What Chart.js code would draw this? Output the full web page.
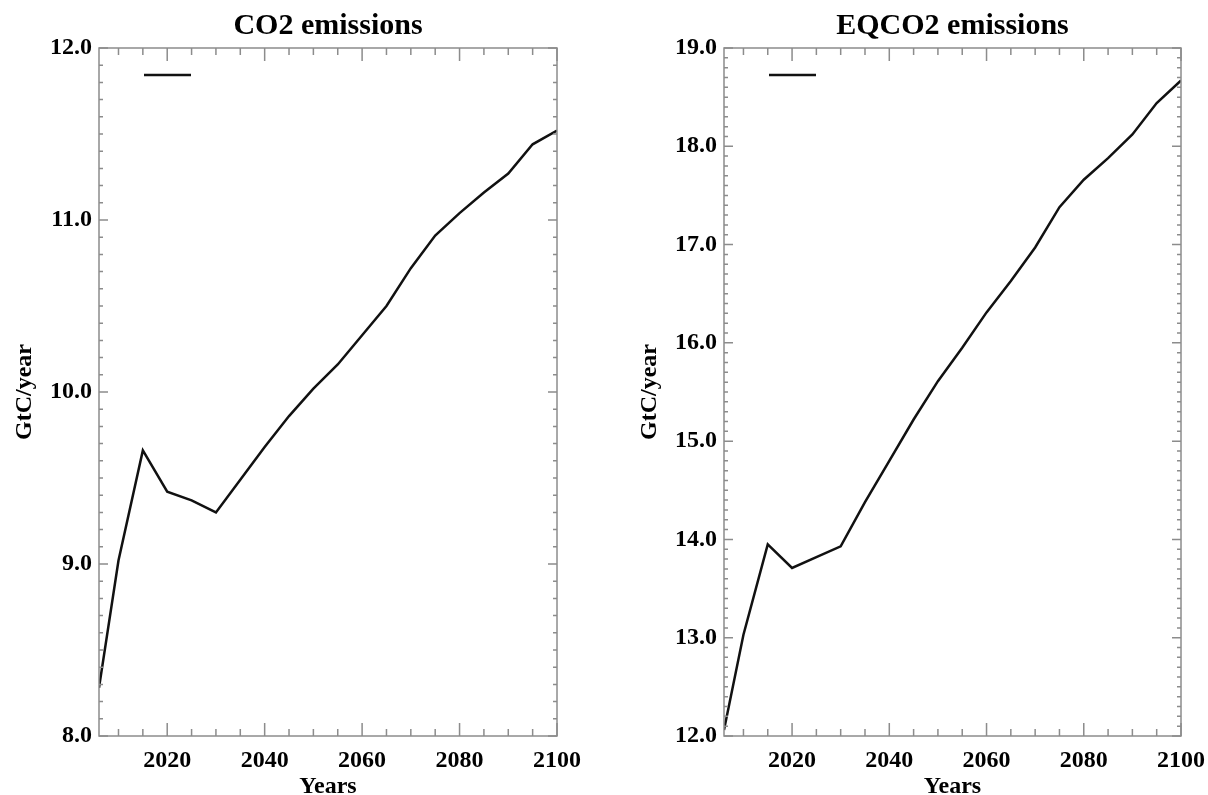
<!DOCTYPE html>
<html>
<head>
<meta charset="utf-8">
<script src="https://cdn.jsdelivr.net/npm/chart.js@4.4.1/dist/chart.umd.min.js"></script>
<style>
  html, body { margin: 0; padding: 0; background: #fff; overflow: hidden; }
  .panel { position: absolute; top: 0; width: 604px; height: 795px; }
</style>
</head>
<body>
<div class="panel" style="left:0"><canvas id="co2Chart" width="604" height="795"></canvas></div>
<div class="panel" style="left:604px"><canvas id="eqco2Chart" width="604" height="795"></canvas></div>
<script>
const years = [2006, 2010, 2015, 2020, 2025, 2030, 2035, 2040, 2045, 2050,
               2055, 2060, 2065, 2070, 2075, 2080, 2085, 2090, 2095, 2100];
const co2Emissions = [8.28, 9.02, 9.66, 9.42, 9.37, 9.30, 9.49, 9.68, 9.86, 10.02,
                      10.16, 10.33, 10.50, 10.72, 10.91, 11.04, 11.16, 11.27, 11.44, 11.52];
const eqco2Emissions = [12.06, 13.03, 13.95, 13.71, 13.82, 13.93, 14.38, 14.80, 15.22, 15.61,
                        15.95, 16.31, 16.63, 16.97, 17.38, 17.66, 17.88, 18.12, 18.44, 18.67];
const yearTicks = [2020, 2040, 2060, 2080, 2100];
const co2Ticks = [8, 9, 10, 11, 12];
const eqco2Ticks = [12, 13, 14, 15, 16, 17, 18, 19];

const serif = 'Liberation Serif, Times New Roman, serif';

// IDL-style box: inward ticks on all four sides + short legend sample line
const idlFrame = {
    id: 'idlFrame',
    afterDatasetsDraw(chart) {
        const { ctx, chartArea: a, scales: { x, y } } = chart;
        ctx.save();
        ctx.strokeStyle = '#8c8c8c';
        ctx.lineWidth = 1.5;
        ctx.strokeRect(a.left, a.top, a.right - a.left, a.bottom - a.top);
        ctx.beginPath();
        for (let yr = Math.ceil(x.min / 5) * 5; yr <= x.max; yr += 5) {
            const px = x.getPixelForValue(yr);
            const len = yr % 20 === 0 ? 13 : 7;
            ctx.moveTo(px, a.bottom); ctx.lineTo(px, a.bottom - len);
            ctx.moveTo(px, a.top); ctx.lineTo(px, a.top + len);
        }
        const lo = Math.round(y.min * 10), hi = Math.round(y.max * 10);
        for (let k = lo; k <= hi; k++) {
            const py = y.getPixelForValue(k / 10);
            const len = k % 10 === 0 ? 9 : 4;
            ctx.moveTo(a.left, py); ctx.lineTo(a.left + len, py);
            ctx.moveTo(a.right, py); ctx.lineTo(a.right - len, py);
        }
        ctx.stroke();

        const ds = chart.data.datasets[0];
        ctx.strokeStyle = ds.borderColor;
        ctx.lineWidth = ds.borderWidth;
        ctx.beginPath();
        ctx.moveTo(a.left + 45, a.top + 27);
        ctx.lineTo(a.left + 92, a.top + 27);
        ctx.stroke();
        ctx.restore();
    }
};

function makeChart(canvasId, title, values, yTicks, yWidth, yTitlePad, rightPad) {
    const tickFont = { family: serif, size: 24, weight: 'bold' };
    return new Chart(document.getElementById(canvasId), {
        type: 'line',
        data: {
            datasets: [{
                label: title,
                data: years.map((yr, i) => ({ x: yr, y: values[i] })),
                borderColor: '#111111',
                borderWidth: 2.5,
                pointRadius: 0,
                tension: 0,
                fill: false
            }]
        },
        options: {
            responsive: false,
            animation: false,
            devicePixelRatio: 1,
            layout: { padding: { left: 0, right: rightPad, top: 0, bottom: 0 } },
            plugins: {
                legend: { display: false },
                tooltip: { enabled: false },
                title: {
                    display: true,
                    text: title,
                    fullSize: false,
                    color: '#000',
                    font: { family: serif, size: 30, weight: 'bold' },
                    padding: { top: 8, bottom: 4 }
                }
            },
            scales: {
                x: {
                    type: 'linear',
                    min: 2006,
                    max: 2100,
                    afterBuildTicks: s => { s.ticks = yearTicks.map(v => ({ value: v })); },
                    afterFit: s => { s.height = 59; },
                    grid: { display: false, drawTicks: true, tickLength: 10 },
                    border: { display: false },
                    ticks: {
                        color: '#000',
                        font: tickFont,
                        padding: 0,
                        maxRotation: 0,
                        autoSkip: false,
                        callback: v => String(v)
                    },
                    title: {
                        display: true,
                        text: 'Years',
                        color: '#000',
                        font: { family: serif, size: 24, weight: 'bold', lineHeight: 0.68 },
                        padding: { top: 0, bottom: 0 }
                    }
                },
                y: {
                    min: yTicks[0],
                    max: yTicks[yTicks.length - 1],
                    afterBuildTicks: s => { s.ticks = yTicks.map(v => ({ value: v })); },
                    afterFit: s => { s.width = yWidth; },
                    grid: { display: false, drawTicks: true, tickLength: 7 },
                    border: { display: false },
                    ticks: {
                        color: '#000',
                        font: tickFont,
                        padding: 0,
                        autoSkip: false,
                        callback: v => Number(v).toFixed(1)
                    },
                    title: {
                        display: true,
                        text: 'GtC/year',
                        color: '#000',
                        font: { family: serif, size: 24, weight: 'bold' },
                        padding: { top: yTitlePad, bottom: 0 }
                    }
                }
            }
        },
        plugins: [idlFrame]
    });
}

makeChart('co2Chart', 'CO2 emissions', co2Emissions, co2Ticks, 99, 10, 47);
makeChart('eqco2Chart', 'EQCO2 emissions', eqco2Emissions, eqco2Ticks, 120, 31, 27);
</script>
</body>
</html>
